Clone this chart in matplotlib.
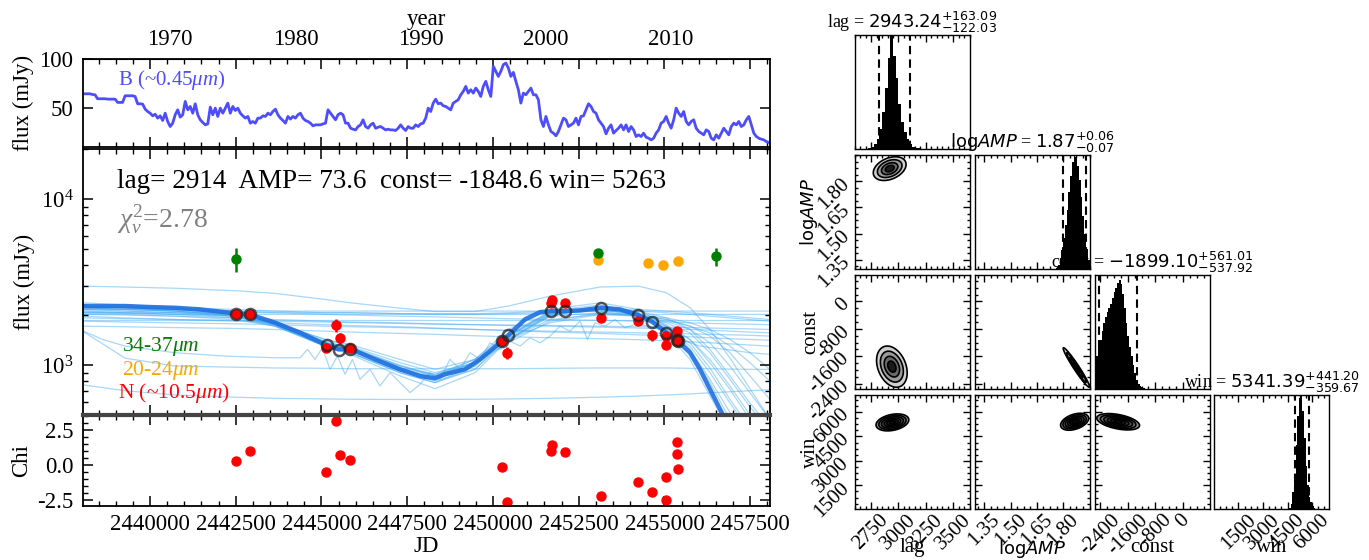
import numpy as np
import matplotlib
matplotlib.use("Agg")
import matplotlib.pyplot as plt
from matplotlib.ticker import (MultipleLocator, AutoMinorLocator, FixedLocator,
                               NullFormatter, NullLocator, FuncFormatter,
                               FormatStrFormatter)

plt.rcParams["font.family"] = ["Liberation Serif", "DejaVu Serif"]
plt.rcParams["mathtext.fontset"] = "custom"
plt.rcParams["mathtext.rm"] = "Liberation Serif"
plt.rcParams["mathtext.it"] = "Liberation Serif:italic"
plt.rcParams["mathtext.bf"] = "Liberation Serif:bold"
plt.rcParams["axes.unicode_minus"] = False

# ---------------- B band light curve (driving curve) ----------------
b_year = np.round(np.arange(1963.2, 2018.01, 0.2), 1)
b_flux = [
    64.8, 64.8, 64.8, 64.1, 63.8, 59.8, 59.8, 59.8, 59.8, 59.4,
    59.4, 59.4, 59.4, 56.1, 56.1, 56.1, 62.8, 62.8, 62.8, 62.8,
    62.1, 54.7, 54.7, 54.4, 49.3, 46.9, 45.2, 42.5, 44.2, 40.2,
    42.5, 37.8, 45.2, 36.8, 31.7, 35.1, 43.6, 48.6, 41.2, 43.6,
    57.1, 48.6, 52.0, 45.2, 54.7, 43.6, 38.5, 35.8, 33.4, 34.4,
    51.3, 43.6, 50.3, 41.9, 50.3, 45.2, 50.3, 55.4, 45.2, 52.0,
    47.9, 50.3, 45.2, 42.5, 40.2, 41.9, 35.1, 36.8, 35.1, 40.2,
    40.2, 42.5, 41.9, 45.2, 43.6, 46.9, 49.3, 43.6, 40.2, 37.8,
    35.1, 41.9, 39.2, 41.9, 40.2, 43.6, 45.2, 40.2, 37.8, 36.8,
    35.1, 32.4, 33.4, 33.4, 33.4, 34.4, 35.1, 48.6, 45.2, 41.9,
    38.5, 43.6, 45.2, 43.6, 35.1, 35.1, 30.0, 29.0, 28.3, 31.7,
    33.4, 38.5, 31.7, 30.0, 33.4, 35.1, 30.0, 31.0, 31.7, 30.0,
    28.3, 29.0, 28.3, 28.3, 27.7, 30.0, 33.4, 30.0, 27.7, 31.7,
    30.0, 30.0, 33.4, 31.7, 34.4, 35.1, 40.2, 50.3, 46.9, 55.4,
    59.4, 54.7, 55.4, 52.7, 52.0, 50.3, 48.6, 55.4, 57.1, 58.8,
    63.8, 67.2, 72.3, 65.5, 68.9, 65.5, 70.6, 67.2, 62.1, 72.3,
    77.4, 68.9, 62.1, 92.6, 87.5, 82.4, 87.5, 94.3, 95.9, 90.9,
    82.4, 86.5, 77.4, 68.9, 55.4, 65.5, 63.8, 67.2, 70.6, 63.8,
    63.8, 58.8, 38.5, 31.7, 41.9, 33.4, 26.7, 25.0, 22.3, 26.7,
    33.4, 40.2, 38.5, 31.7, 33.4, 35.1, 40.2, 33.4, 41.9, 42.5,
    48.6, 54.7, 52.0, 46.9, 45.2, 38.5, 35.1, 31.7, 24.3, 30.0,
    33.4, 25.0, 27.7, 30.0, 33.4, 28.3, 33.4, 26.7, 31.7, 28.3,
    21.6, 23.3, 21.6, 25.0, 20.9, 19.9, 18.2, 19.9, 25.0, 28.3,
    35.1, 36.8, 41.9, 35.1, 30.0, 38.5, 50.3, 45.2, 41.9, 46.9,
    36.8, 33.4, 36.8, 38.5, 30.0, 26.7, 25.0, 23.3, 28.3, 26.7,
    19.9, 18.2, 23.3, 19.9, 25.0, 30.0, 26.7, 23.3, 31.7, 35.1,
    33.4, 36.8, 31.7, 33.4, 38.5, 41.9, 33.4, 25.0, 21.6, 19.9,
    18.9, 18.2, 16.5, 15.5, 14.8,
]
year_ticks = [1970, 1980, 1990, 2000, 2010]

# ---------------- mid-IR photometry ----------------
n_jd = [2442507, 2442901, 2445132, 2445423, 2445540, 2445817, 2450278, 2450424,
        2451707, 2451736, 2452101, 2453165, 2454244, 2454638, 2455061, 2455061,
        2455367, 2455367, 2455396]
n_flux = [2018, 2018, 1273, 1739, 1446, 1260, 1394, 1187, 2371, 2448, 2349, 1909,
          1838, 1514, 1493, 1313, 1600, 1427, 1394]
n_err = [60, 60, 70, 150, 110, 60, 90, 100, 140, 150, 120, 60, 70, 110, 60, 60,
         80, 70, 60]
n_chi = [0.30, 0.98, -0.50, 3.17, 0.69, 0.33, -0.12, -2.62, 1.00, 1.43, 0.95,
         -2.21, -1.19, -1.95, -0.88, -2.50, 1.67, 0.76, -0.29]

g_jd = [2442507, 2453078, 2456505]
g_flux = [4340, 4730, 4520]
g_err = [700, 150, 560]

o_jd = [2453078, 2454521, 2454958, 2455396]
o_flux = [4280, 4120, 4010, 4210]

# best-fit model and its value at the N-band epochs
model_jd = [2438031, 2439270, 2439999, 2440729, 2441458, 2442508, 2442901, 2443645,
            2444374, 2445103, 2445497, 2445832, 2446561, 2447290, 2447874, 2448311,
            2448603, 2449186, 2449623, 2450207, 2450455, 2450936, 2451374, 2451709,
            2452103, 2452540, 2453167, 2453707, 2454245, 2454639, 2455062, 2455368,
            2455747, 2456038, 2456330, 2456622, 2456913]
model_flux = [2266, 2266, 2234, 2212, 2163, 2046, 2018, 1799, 1566, 1332, 1242, 1255,
              1082, 942, 859, 832, 880, 942, 1082, 1364, 1515, 1884, 2082, 2112,
              2112, 2133, 2213, 2163, 1997, 1824, 1566, 1406, 1187, 942, 714, 542, 411]
circ_jd = [2442507, 2442901, 2445175, 2445496, 2445817, 2450278, 2450453, 2451707,
           2452101, 2453165, 2454244, 2454638, 2455061, 2455367, 2455396]
circ_flux = [2018, 2018, 1320, 1233, 1256, 1393, 1515, 2112, 2112, 2213, 1997, 1824,
             1556, 1406, 1390]

# posterior sample models, tabulated at common epochs
sample_jd = [2438031, 2439270, 2440728, 2442507, 2443644, 2445102, 2445831, 2447289,
             2448310, 2449476, 2450453, 2451663, 2453121, 2454244, 2455061, 2455746,
             2456329, 2456912, 2457495, 2458078]
sample_flux = [
    [2213, 2213, 2163, 2018, 1795, 1361, 1242, 942, 860, 1081, 1564, 2065, 2113, 1968, 1714, 1426, 1033, 714, 470, 330],
    [2163, 2113, 2065, 1968, 1714, 1300, 1186, 899, 783, 986, 1495, 2018, 2163, 2018, 1795, 1561, 1186, 820, 560, 400],
    [2300, 2265, 2213, 2065, 1837, 1361, 1290, 986, 859, 1033, 1426, 1968, 2265, 2065, 1637, 1242, 820, 518, 360, 250],
    [2065, 2065, 2018, 1923, 1714, 1300, 1186, 920, 800, 942, 1426, 1968, 2065, 1968, 1837, 1637, 1361, 986, 680, 470],
    [2213, 2163, 2113, 1968, 1750, 1330, 1250, 960, 880, 1081, 1637, 2163, 2371, 2163, 1714, 1242, 783, 470, 320, 230],
    [2113, 2113, 2065, 1968, 1795, 1426, 1300, 1033, 900, 1033, 1361, 1837, 2065, 2018, 1879, 1714, 1493, 1186, 860, 620],
    [2265, 2213, 2163, 2018, 1795, 1361, 1270, 960, 820, 986, 1493, 2065, 2213, 2018, 1750, 1426, 1081, 748, 500, 350],
    [2018, 2018, 1968, 1879, 1714, 1361, 1242, 986, 880, 1033, 1426, 1879, 2018, 1968, 1879, 1714, 1561, 1300, 1033, 800],
    [2371, 2300, 2213, 2018, 1750, 1300, 1186, 899, 783, 942, 1493, 2113, 2300, 2065, 1561, 1081, 652, 400, 280, 200],
    [2163, 2163, 2113, 1990, 1750, 1330, 1220, 920, 840, 1010, 1530, 2040, 2163, 2018, 1637, 1300, 900, 590, 400, 290],
    [2213, 2163, 2113, 2018, 1795, 1390, 1270, 1000, 860, 1033, 1460, 1990, 2213, 2113, 1923, 1637, 1242, 860, 590, 420],
    [2113, 2065, 2018, 1968, 1795, 1426, 1330, 1081, 942, 1081, 1426, 1795, 2018, 1990, 1923, 1795, 1637, 1426, 1186, 940],
    [2265, 2213, 2113, 1990, 1750, 1300, 1160, 860, 720, 899, 1426, 2018, 2163, 1990, 1690, 1361, 960, 620, 420, 300],
    [2163, 2163, 2140, 2113, 2113, 2113, 2113, 2113, 2113, 2113, 2113, 2113, 2113, 2113, 2113, 2113, 2113, 2113, 2113, 2113],
    [2065, 2040, 2018, 2018, 2018, 2018, 2018, 2018, 2018, 2018, 2018, 2018, 2018, 2018, 2018, 2018, 2018, 2018, 2018, 2018],
    [2265, 2213, 2163, 2113, 2065, 2018, 2000, 1968, 1950, 1923, 1900, 1879, 1860, 1837, 1820, 1795, 1780, 1770, 1760, 1750],
    [1923, 1900, 1879, 1860, 1837, 1815, 1800, 1780, 1760, 1750, 1740, 1730, 1714, 1700, 1690, 1680, 1670, 1660, 1650, 1637],
    [2018, 2000, 1968, 1923, 1879, 1837, 1815, 1795, 1770, 1750, 1730, 1714, 1690, 1670, 1650, 1637, 1620, 1600, 1580, 1563],
    [1837, 1815, 1795, 1770, 1750, 1714, 1700, 1680, 1660, 1637, 1620, 1600, 1580, 1563, 1550, 1540, 1530, 1520, 1510, 1493],
    [1968, 1923, 1879, 1837, 1795, 1750, 1730, 1700, 1670, 1637, 1610, 1580, 1550, 1520, 1500, 1480, 1460, 1440, 1426, 1410],
    [1714, 1700, 1680, 1660, 1637, 1600, 1580, 1550, 1530, 1500, 1480, 1460, 1440, 1420, 1400, 1380, 1361, 1340, 1320, 1300],
    [2065, 2065, 2065, 2065, 2065, 2065, 2065, 2040, 2040, 2040, 2065, 2113, 2163, 2163, 2113, 2065, 2018, 1968, 1923, 1879],
    [1879, 1879, 1879, 1879, 1879, 1879, 1879, 1879, 1879, 1879, 1879, 1879, 1879, 1879, 1879, 1879, 1879, 1879, 1879, 1879],
    [2213, 2213, 2213, 2163, 2113, 2065, 2065, 2040, 2018, 2018, 2040, 2065, 2113, 2113, 2065, 2018, 1968, 1923, 1879, 1837],
    [2985, 2950, 2900, 2800, 2700, 2483, 2371, 2200, 2100, 2100, 2265, 2600, 2950, 2985, 2723, 2213, 1637, 1100, 720, 470],
    [1600, 1100, 986, 970, 960, 955, 950, 950, 950, 950, 950, 955, 960, 960, 960, 955, 950, 945, 942, 942],
    [760, 700, 660, 640, 630, 625, 622, 620, 620, 622, 625, 630, 640, 650, 660, 670, 680, 690, 700, 710],
]
# one noisy posterior draw, tabulated densely
noisy_jd = [2438060, 2438614, 2439270, 2440728, 2442186, 2443644, 2444373, 2444592,
            2444811, 2445029, 2445248, 2445467, 2445685, 2445904, 2446123, 2446415,
            2446706, 2446998, 2447289, 2447581, 2447872, 2448164, 2448456, 2448747,
            2449039, 2449331, 2449622, 2449914, 2450205, 2450497, 2450789, 2451080,
            2451372, 2451663, 2451955, 2452247, 2452538, 2452757, 2452976, 2453267,
            2453559, 2453850, 2454142, 2454579, 2455017, 2455454, 2456037, 2456766,
            2457495, 2458079]
noisy_flux = [1600, 1426, 1300, 1186, 1132, 1106, 1106, 1242, 1081, 1270, 942, 1132,
              880, 1081, 820, 942, 748, 899, 783, 682, 765, 899, 820, 1081, 942, 1186,
              1081, 1361, 1242, 1393, 1300, 1460, 1361, 1493, 1714, 1600, 1837, 1426,
              1795, 1714, 1879, 1676, 1755, 1714, 1600, 1426, 1300, 1242, 1186, 1160]

fit_lag, fit_amp, fit_const, fit_win, fit_chi2 = 2914, 73.6, -1848.6, 5263, 2.78

# ---------------- posterior summaries ----------------
par_labels = ["lag", r"$\mathrm{log}AMP$", "const", "win"]
par_median = [2943.24, 1.87, -1899.10, 5341.39]
par_minus = [122.03, 0.07, 537.92, 359.67]
par_plus = [163.09, 0.06, 561.01, 441.20]
par_range = [(2600, 3650), (1.295, 1.95), (-2560, 770), (30, 7040)]
par_ticks = [[2750, 3000, 3250, 3500], [1.35, 1.50, 1.65, 1.80],
             [-2400, -1600, -800, 0], [1500, 3000, 4500, 6000]]
par_fmt = ["%d", "%.2f", "%d", "%d"]

lag_edges = np.arange(2725, 3226, 25)
lag_counts = [1, 2, 5, 9, 18, 33, 54, 80, 100, 82, 62, 40, 24, 15, 9, 5, 2, 1, 1, 0]
amp_edges = np.round(np.arange(1.76, 1.955, 0.01), 2)
amp_counts = [1, 4, 10, 17, 27, 39, 52, 68, 82, 94, 100, 98, 90, 78, 63, 47, 31, 18, 8]
const_edges = np.arange(-2560, -1059, 50)
const_counts = [23, 29, 36, 43, 51, 58, 63, 68, 71, 75, 80, 85, 89, 93, 96, 92, 83,
                71, 58, 47, 37, 29, 21, 14, 8, 5, 3, 2, 1, 0]
win_edges = np.arange(4500, 6401, 100)
win_counts = [0, 1, 5, 15, 31, 56, 82, 97, 100, 86, 62, 38, 21, 11, 6, 3, 1, 0, 0]

# 2-D posterior shapes: (row, col), centre, spread and correlation
cont_pairs = [(1, 0), (2, 0), (2, 1), (3, 0), (3, 1), (3, 2)]
cont_cx = [2920, 2940, 1.875, 2945, 1.865, -1880]
cont_cy = [1.872, -1900, -1925, 5360, 5400, 5400]
cont_sx = [150, 140, 0.075, 150, 0.08, 620]
cont_sy = [0.068, 600, 575, 520, 520, 500]
cont_rho = [0.35, -0.3, -0.97, 0.3, 0.4, -0.45]


def jd_to_year(jd):
    return 1970.0 + (np.asarray(jd, dtype=float) - 2440587.5) / 365.25


def year_to_jd(yr):
    return 2440587.5 + (np.asarray(yr, dtype=float) - 1970.0) * 365.25


W, H = 1369, 560
fig = plt.figure(figsize=(W / 100, H / 100), dpi=100)


def px_axes(x0, y0, x1, y1, **kw):
    return fig.add_axes([x0 / W, 1 - y1 / H, (x1 - x0) / W, (y1 - y0) / H], **kw)


def style_lc(ax):
    ax.tick_params(which="both", direction="in", top=True, right=True,
                   labelsize=16.5, pad=6.5)
    ax.tick_params(which="major", length=7, width=1.1)
    ax.tick_params(which="minor", length=3.5, width=1.0)
    for s in ax.spines.values():
        s.set_linewidth(1.3)


ax_b = px_axes(82.5, 59, 770, 147)
ax_m = px_axes(82.5, 149, 770, 415, sharex=ax_b)
ax_c = px_axes(82.5, 415, 770, 505.5, sharex=ax_b)
for ax in (ax_b, ax_m, ax_c):
    style_lc(ax)

ax_c.set_xlim(2438030, 2458080)
ax_c.xaxis.set_major_locator(MultipleLocator(2500))
ax_c.xaxis.set_minor_locator(MultipleLocator(500))
ax_c.xaxis.set_major_formatter(FuncFormatter(lambda v, p: f"{v:.0f}"))
ax_b.tick_params(labelbottom=False)
ax_m.tick_params(labelbottom=False)
ax_c.tick_params(axis="x", pad=6)

# --- B band panel
b_jd = year_to_jd(b_year)
ax_b.plot(b_jd, b_flux, color="#4d4dff", lw=2.0)
ax_b.set_ylim(11, 100)
ax_b.yaxis.set_major_locator(FixedLocator([50, 100]))
ax_b.yaxis.set_minor_locator(NullLocator())
ax_b.set_ylabel("flux (mJy)", fontsize=16.5)
ax_b.text(0.051, 0.70, r"B (~0.45$\mu m$)", color="#4d4dff", fontsize=15,
          transform=ax_b.transAxes)
sec = ax_b.secondary_xaxis("top", functions=(jd_to_year, year_to_jd))
sec.xaxis.set_major_locator(FixedLocator(year_ticks))
sec.xaxis.set_minor_locator(NullLocator())
sec.tick_params(length=0, pad=6.5, labelsize=16.5)
sec.set_xlabel("year", fontsize=16.5, labelpad=2.5)

# --- mid-IR panel
ax_m.set_yscale("log")
ax_m.set_ylim(500, 20000)
ax_m.yaxis.set_minor_formatter(NullFormatter())
for curve in sample_flux:
    ax_m.plot(sample_jd, curve, color="#40a8f0", alpha=0.45, lw=0.9, zorder=1)
ax_m.plot(noisy_jd, noisy_flux, color="#40a8f0", alpha=0.45, lw=0.9, zorder=1)
ax_m.plot(model_jd, model_flux, color="#1f6fe0", lw=3.2, alpha=0.9, zorder=2)
ax_m.errorbar(g_jd, g_flux, yerr=g_err, fmt="o", color="green", ms=6.5,
              elinewidth=1.8, capsize=0, zorder=3)
ax_m.plot(o_jd, o_flux, "o", color="orange", ms=6.5, zorder=3)
ax_m.errorbar(n_jd, n_flux, yerr=n_err, fmt="o", color="red", ms=6.5,
              elinewidth=1.8, capsize=0, zorder=3)
ax_m.plot(circ_jd, circ_flux, "o", mfc="none", mec="#222222", mew=1.8, ms=8,
          alpha=0.75, zorder=4)
ax_m.set_ylabel("flux (mJy)", fontsize=16.5)
ax_m.text(0.05, 0.853,
          f"lag= {fit_lag}  AMP= {fit_amp}  const= {fit_const} win= {fit_win}",
          fontsize=19.5, transform=ax_m.transAxes)
ax_m.text(0.05, 0.707, r"$\chi^2_\nu$=" + f"{fit_chi2}", fontsize=20,
          color="grey", transform=ax_m.transAxes)
ax_m.text(0.0575, 0.242, r"34-37$\mu m$", color="green", fontsize=15.5,
          transform=ax_m.transAxes)
ax_m.text(0.0575, 0.150, r"20-24$\mu m$", color="orange", fontsize=15.5,
          transform=ax_m.transAxes)
ax_m.text(0.0516, 0.064, r"N (~10.5$\mu m$)", color="red", fontsize=15.5,
          transform=ax_m.transAxes)

# --- residual panel
ax_c.plot(n_jd, n_chi, "o", color="red", ms=6.5)
ax_c.set_ylim(-2.88, 3.57)
ax_c.yaxis.set_major_locator(FixedLocator([-2.5, 0.0, 2.5]))
ax_c.yaxis.set_major_formatter(FormatStrFormatter("%.1f"))
ax_c.yaxis.set_minor_locator(AutoMinorLocator())
ax_c.spines["top"].set_linewidth(3)
ax_c.spines["top"].set_color("#444444")
ax_c.set_ylabel("Chi", fontsize=16.5)
ax_c.set_xlabel("JD", fontsize=16.5, labelpad=1)

# ---------------- corner plot ----------------
col_x = [854.7, 974.7, 1094.7, 1214.3]
row_y = [35.0, 155.0, 275.0, 395.0]
pw, ph = 114.8, 114.3
axes = [[None] * 4 for _ in range(4)]
for i in range(4):
    for j in range(i + 1):
        ax = px_axes(col_x[j], row_y[i], col_x[j] + pw, row_y[i] + ph)
        ax.set_facecolor("none")
        axes[i][j] = ax
axes[1][1].set_zorder(1)

hist_edges = [lag_edges, amp_edges, const_edges, win_edges]
hist_counts = [lag_counts, amp_counts, const_counts, win_counts]
t = np.linspace(0, 2 * np.pi, 160)
std_levels = [1.0, 0.75, 0.5, 0.27]
std_fills = ["#cfcfcf", "#9a9a9a", "#6a6a6a", "#1a1a1a"]
dense_levels = [1.0, 0.83, 0.67, 0.5, 0.34, 0.18]
dense_fills = ["#8c8c8c", "#6e6e6e", "#505050", "#383838", "#222222", "#111111"]

for k, (i, j) in enumerate(cont_pairs):
    ax = axes[i][j]
    levels, fills = (dense_levels, dense_fills) if i == 3 else (std_levels, std_fills)
    r = cont_rho[k]
    for s, fc in zip(levels, fills):
        xs = cont_cx[k] + s * cont_sx[k] * np.cos(t)
        ys = cont_cy[k] + s * cont_sy[k] * (r * np.cos(t) + np.sqrt(1 - r * r) * np.sin(t))
        ax.fill(xs, ys, facecolor=fc, edgecolor="k", lw=1.2, zorder=2)

for i in range(4):
    for j in range(i + 1):
        ax = axes[i][j]
        ax.set_xlim(*par_range[j])
        ax.xaxis.set_major_locator(FixedLocator(par_ticks[j]))
        ax.xaxis.set_minor_locator(AutoMinorLocator())
        ax.xaxis.set_major_formatter(FormatStrFormatter(par_fmt[j]))
        ax.tick_params(which="both", direction="in", top=True, right=True,
                       labelsize=15, width=1.0)
        ax.tick_params(which="major", length=5)
        ax.tick_params(which="minor", length=2.5)
        for s in ax.spines.values():
            s.set_linewidth(1.0)
        if i == j:
            ax.stairs(hist_counts[i], hist_edges[i], fill=True, color="k", lw=0)
            ax.set_ylim(0, 100)
            ax.set_yticks([])
            ax.tick_params(which="both", left=False, right=False)
            lo = par_median[i] - par_minus[i]
            hi = par_median[i] + par_plus[i]
            for v in (lo, hi):
                ax.axvline(v, color="k", ls="--", lw=1.5, dashes=(4, 2.5))
            title = (f"{par_labels[i]} = " +
                     f"${par_median[i]:.2f}_{{-{par_minus[i]:.2f}}}^{{+{par_plus[i]:.2f}}}$")
            ax.set_title(title, fontsize=13, math_fontfamily="dejavusans", pad=4)
        else:
            ax.set_ylim(*par_range[i])
            ax.yaxis.set_major_locator(FixedLocator(par_ticks[i]))
            ax.yaxis.set_minor_locator(AutoMinorLocator())
            ax.yaxis.set_major_formatter(FormatStrFormatter(par_fmt[i]))
        if i < 3:
            ax.tick_params(labelbottom=False)
        else:
            ax.tick_params(axis="x", labelrotation=45, pad=1)
            ax.set_xlabel(par_labels[j], fontsize=15 if j != 1 else 13,
                          math_fontfamily="dejavusans")
            ax.xaxis.set_label_coords(0.5, -0.255)
        if j > 0 or i == 0:
            ax.tick_params(labelleft=False)
        else:
            ax.tick_params(axis="y", labelrotation=45, pad=1)
            ax.set_ylabel(par_labels[i], fontsize=15 if i != 1 else 13,
                          math_fontfamily="dejavusans")
            ax.yaxis.set_label_coords(-0.3, 0.5)

fig.savefig("out.png", dpi=100)
